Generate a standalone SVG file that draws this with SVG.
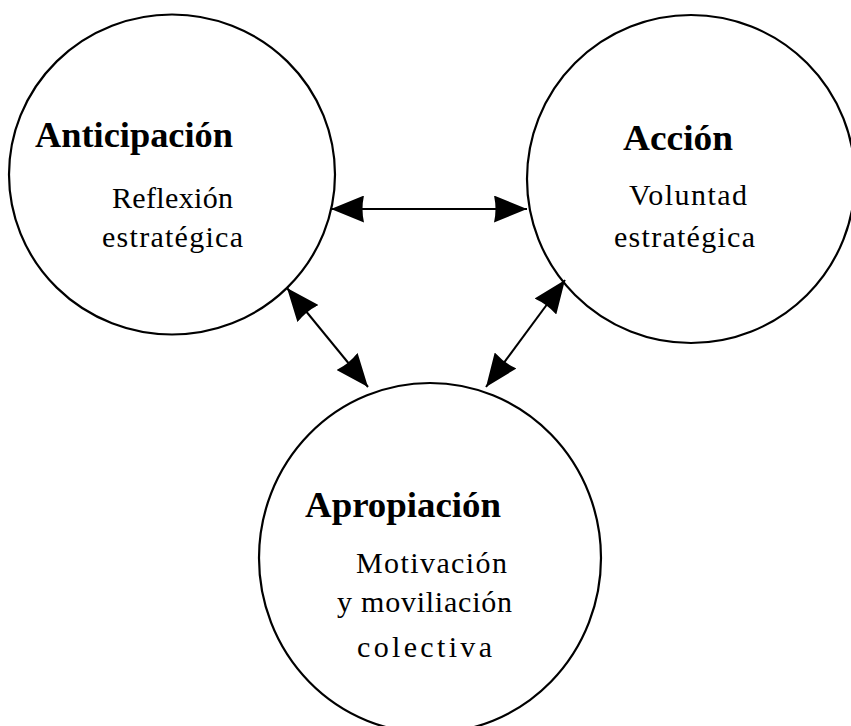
<svg xmlns="http://www.w3.org/2000/svg" width="851" height="726" viewBox="0 0 851 726">
<defs>
<style>
.n{fill:#fff;stroke:#000;stroke-width:2.2}
.t{font-family:"Liberation Serif","Times New Roman",serif;fill:#000}
.b{font-weight:bold;font-size:36px}
.r{font-size:30px}
.c{stroke:#000;stroke-width:2;fill:none;marker-start:url(#ah);marker-end:url(#ah)}
</style>
<marker id="ah" viewBox="0 0 33 27" refX="33" refY="13.5" markerWidth="33" markerHeight="27" markerUnits="userSpaceOnUse" orient="auto-start-reverse">
<path d="M0,0 L33,13.5 L0,27 Q3,13.5 0,0 Z" fill="#000"/>
</marker>
</defs>
<rect width="851" height="726" fill="#fff"/>
<g id="anticipacion">
<ellipse class="n" cx="172" cy="174.5" rx="163" ry="160"/>
<text class="t b" x="35" y="147" textLength="198" lengthAdjust="spacingAndGlyphs">Anticipación</text>
<text class="t r" x="112" y="208" textLength="121" lengthAdjust="spacing">Reflexión</text>
<text class="t r" x="102" y="247" textLength="141" lengthAdjust="spacing">estratégica</text>
</g>
<g id="accion">
<ellipse class="n" cx="691" cy="179" rx="164" ry="164"/>
<text class="t b" x="623" y="150" textLength="110" lengthAdjust="spacingAndGlyphs">Acción</text>
<text class="t r" x="629" y="205" textLength="118" lengthAdjust="spacing">Voluntad</text>
<text class="t r" x="614" y="247" textLength="141" lengthAdjust="spacing">estratégica</text>
</g>
<g id="apropiacion">
<ellipse class="n" cx="430" cy="558" rx="171" ry="175"/>
<text class="t b" x="305" y="517" textLength="196" lengthAdjust="spacingAndGlyphs">Apropiación</text>
<text class="t r" x="356" y="573" textLength="151" lengthAdjust="spacing">Motivación</text>
<text class="t r" x="337" y="612" textLength="175" lengthAdjust="spacing">y moviliación</text>
<text class="t r" x="357" y="657" textLength="135" lengthAdjust="spacing">colectiva</text>
</g>
<g id="connectors">
<line class="c" x1="331" y1="209" x2="527" y2="209"/>
<line class="c" x1="287" y1="288" x2="368" y2="387"/>
<line class="c" x1="565" y1="280" x2="486" y2="387"/>
</g>
</svg>
